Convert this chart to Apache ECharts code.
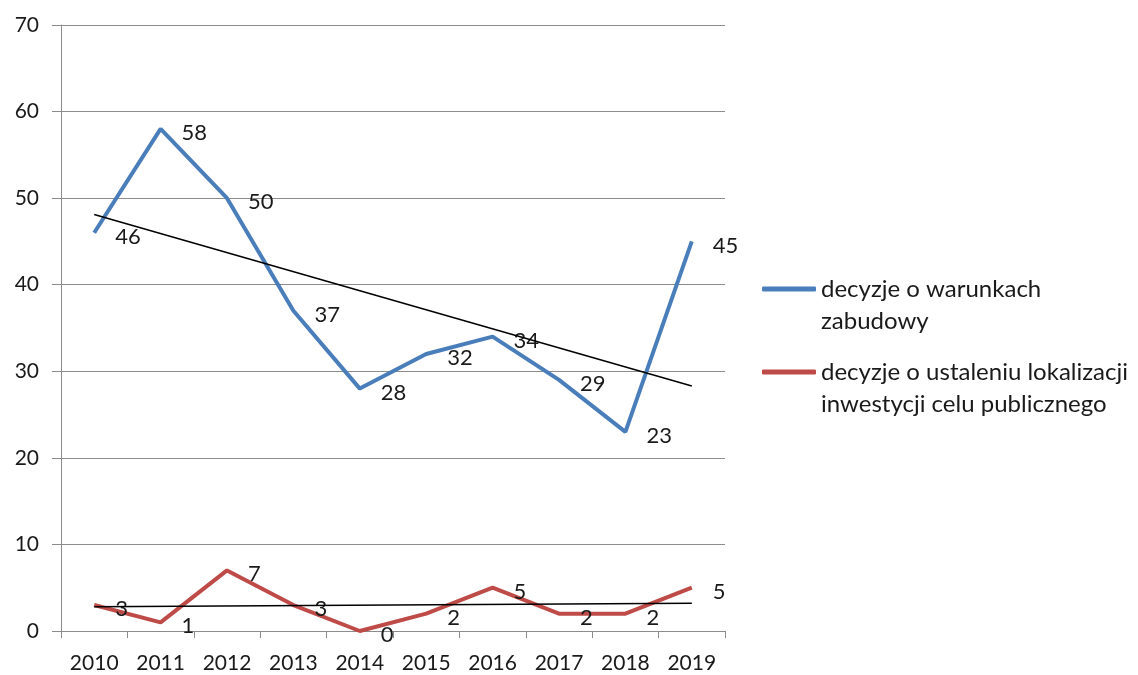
<!DOCTYPE html>
<html>
<head>
<meta charset="utf-8">
<script src="https://cdn.jsdelivr.net/npm/echarts@6/dist/echarts.min.js"></script>
<style>
  html, body { margin: 0; padding: 0; background: #fff; }
  #chart { width: 1138px; height: 675px; }
</style>
</head>
<body>
<div id="chart"></div>
<script>
// Years on the horizontal axis
const years = ['2010', '2011', '2012', '2013', '2014', '2015', '2016', '2017', '2018', '2019'];

// Number of decisions per year
const warunkiZabudowy = [46, 58, 50, 37, 28, 32, 34, 29, 23, 45];
const lokalizacjaCelu = [3, 1, 7, 3, 0, 2, 5, 2, 2, 5];

// Linear trend lines, start and end values (2010 and 2019)
const trendZabudowy = [48.1, 28.3];
const trendLokalizacji = [2.8, 3.2];

const seriesNames = [
  'decyzje o warunkach\nzabudowy',
  'decyzje o ustaleniu lokalizacji\ninwestycji celu publicznego'
];

const FONT = 'Lato';
const TEXT = '#1a1a1a';

function trendData(pair) {
  const d = years.map(() => null);
  d[0] = pair[0];
  d[years.length - 1] = pair[1];
  return d;
}

const valueLabel = {
  show: true,
  position: 'right',
  distance: 21,
  offset: [0, 4],
  fontFamily: FONT,
  fontSize: 22,
  color: TEXT
};

const chart = echarts.init(document.getElementById('chart'), null, { renderer: 'canvas' });
chart.setOption({
  animation: false,
  backgroundColor: '#ffffff',
  grid: { left: 61, right: 413, top: 25, bottom: 44, containLabel: false },
  legend: {
    orient: 'vertical',
    left: 762,
    top: 241,
    padding: 0,
    itemWidth: 54,
    itemHeight: 5,
    itemGap: -13,
    icon: 'roundRect',
    data: seriesNames,
    // an empty first line keeps the icon level with the first text line
    formatter: (name) => '\n' + name,
    textStyle: {
      fontFamily: FONT,
      fontSize: 24,
      color: TEXT,
      lineHeight: 32
    }
  },
  xAxis: {
    type: 'category',
    data: years,
    boundaryGap: true,
    axisLine: { show: true, lineStyle: { color: '#8c8c8c', width: 1 } },
    axisTick: { show: true, length: 7, interval: 0, lineStyle: { color: '#8c8c8c' } },
    axisLabel: { interval: 0, margin: 22, fontFamily: FONT, fontSize: 21, color: TEXT }
  },
  yAxis: {
    type: 'value',
    min: 0,
    max: 70,
    interval: 10,
    axisLine: { show: true, lineStyle: { color: '#8c8c8c', width: 1 } },
    axisTick: { show: true, length: 9, lineStyle: { color: '#8c8c8c' } },
    axisLabel: { margin: 22, fontFamily: FONT, fontSize: 21, color: TEXT },
    splitLine: { show: true, lineStyle: { color: '#8c8c8c', width: 1 } }
  },
  series: [
    {
      name: seriesNames[0],
      type: 'line',
      data: warunkiZabudowy,
      symbol: 'circle',
      symbolSize: 0,
      lineStyle: { color: '#4a7ebb', width: 4 },
      itemStyle: { color: '#4a7ebb' },
      label: valueLabel,
      z: 3
    },
    {
      name: seriesNames[1],
      type: 'line',
      data: lokalizacjaCelu,
      symbol: 'circle',
      symbolSize: 0,
      lineStyle: { color: '#be4b48', width: 4 },
      itemStyle: { color: '#be4b48' },
      label: valueLabel,
      z: 3
    },
    {
      name: 'trend1',
      type: 'line',
      data: trendData(trendZabudowy),
      connectNulls: true,
      symbol: 'none',
      lineStyle: { color: '#000000', width: 1.5 },
      silent: true,
      z: 4
    },
    {
      name: 'trend2',
      type: 'line',
      data: trendData(trendLokalizacji),
      connectNulls: true,
      symbol: 'none',
      lineStyle: { color: '#000000', width: 1.5 },
      silent: true,
      z: 4
    }
  ]
});
</script>
</body>
</html>
